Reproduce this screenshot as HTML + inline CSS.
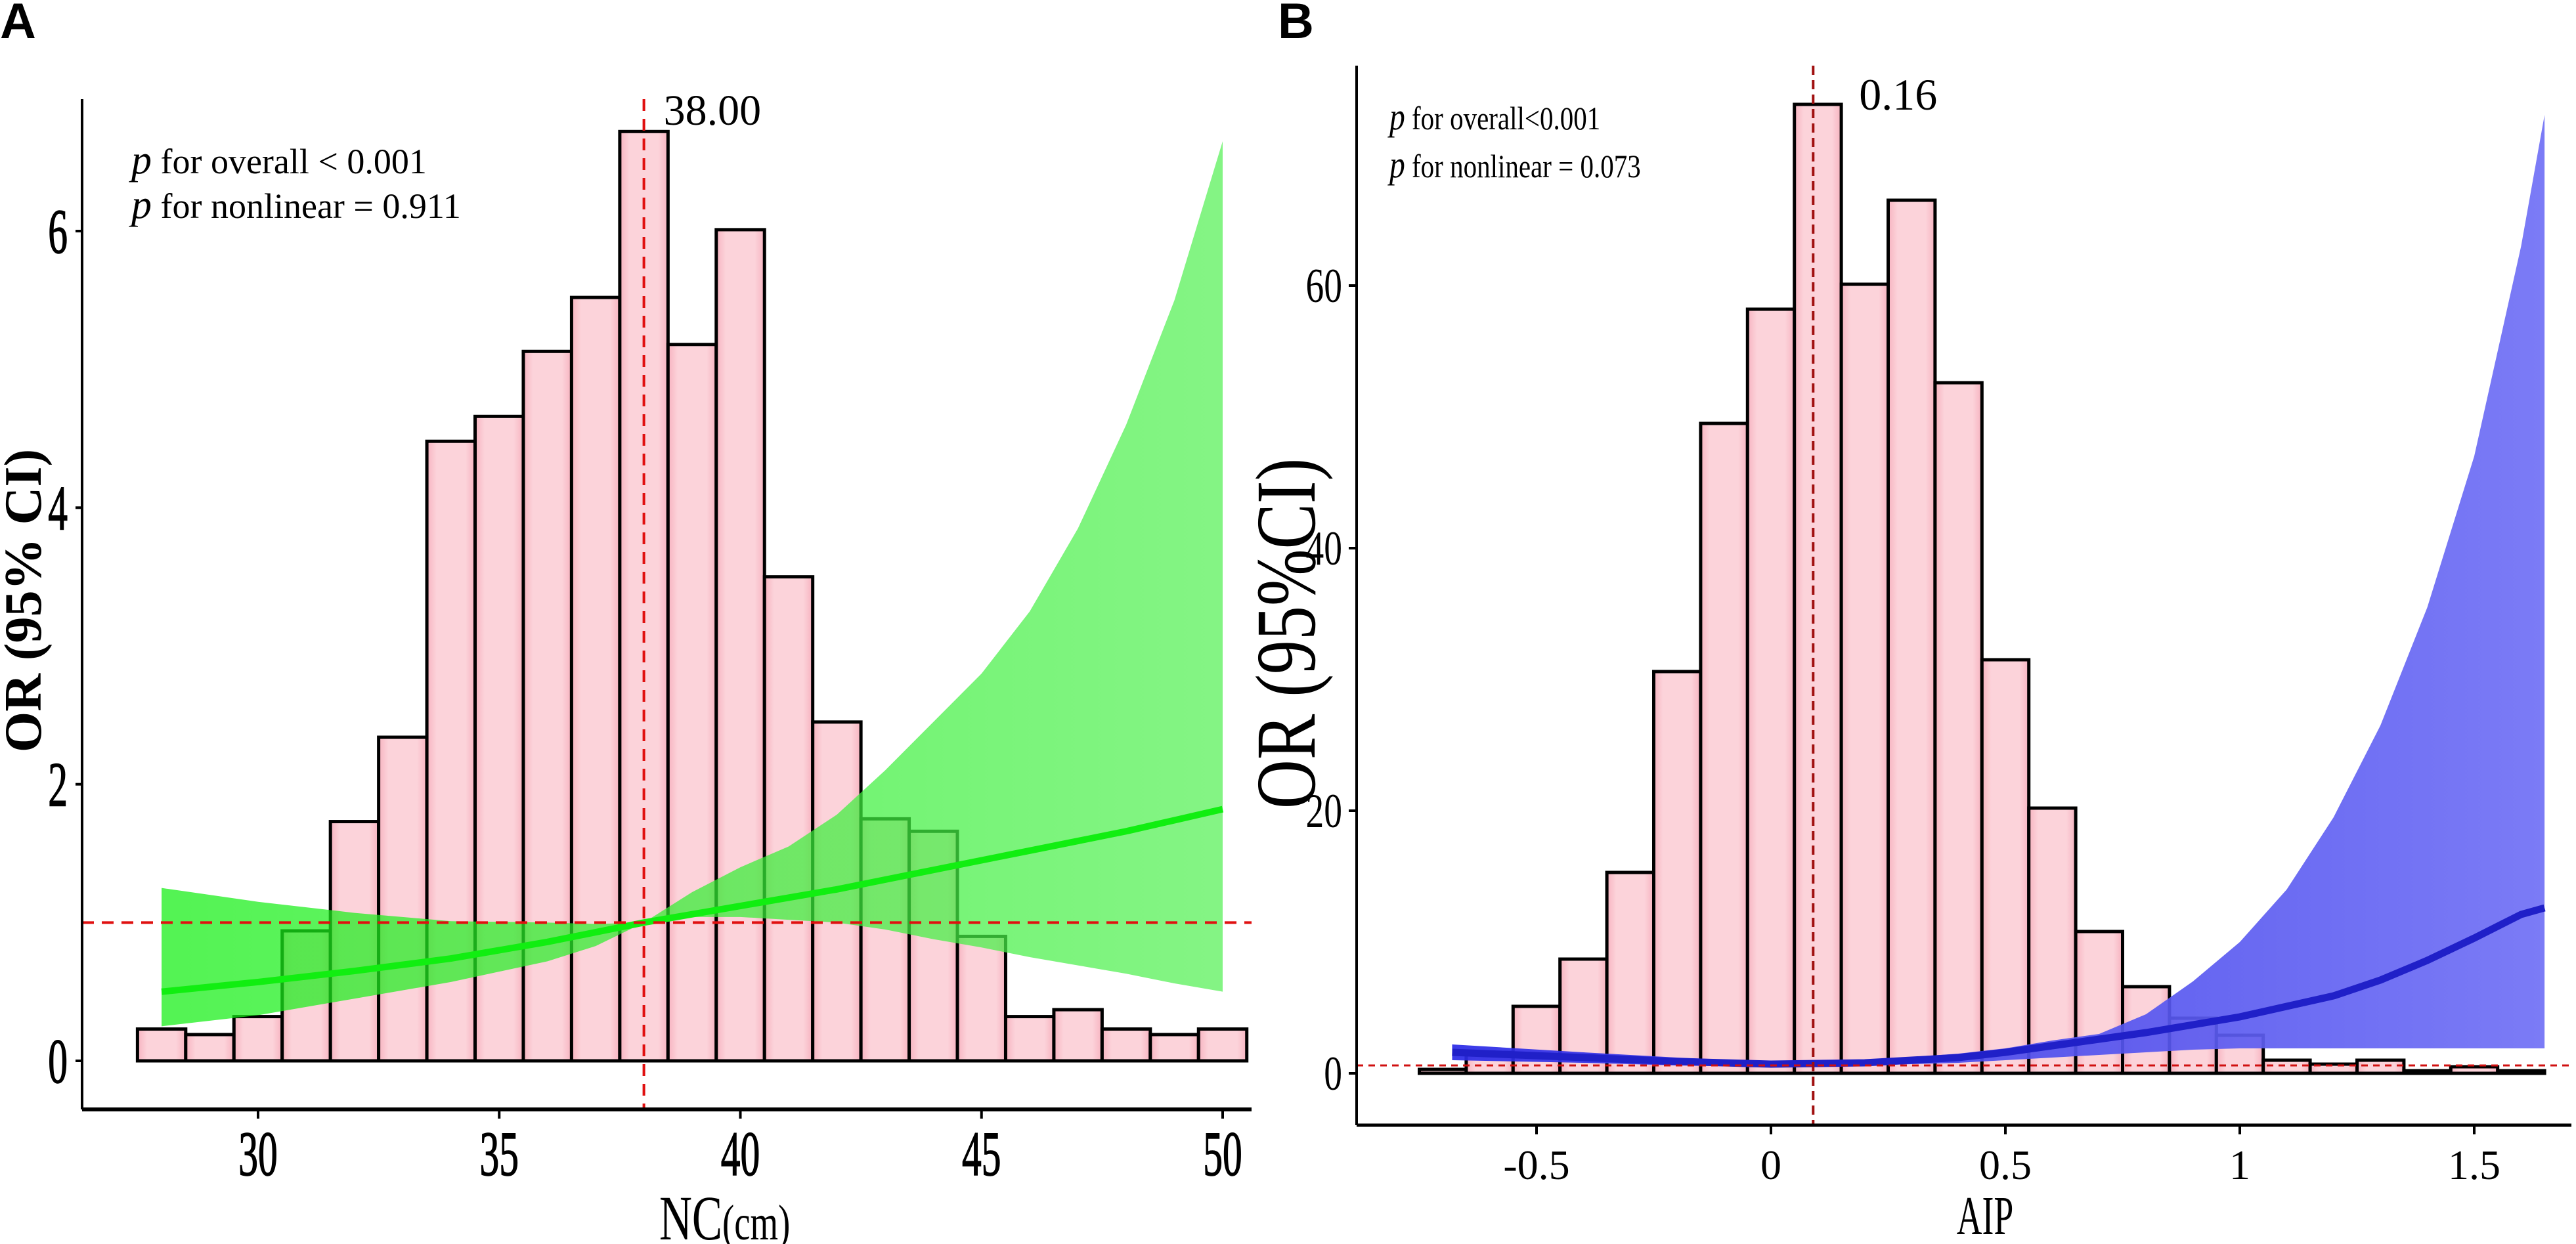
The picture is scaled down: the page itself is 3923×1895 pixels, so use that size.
<!DOCTYPE html>
<html><head><meta charset="utf-8"><style>
html,body{margin:0;padding:0;background:#fff;}
svg{display:block;}
text{font-family:"Liberation Serif",serif;}
</style></head><body>
<svg id="chart" width="3923" height="1895" viewBox="0 0 3923 1895" xmlns="http://www.w3.org/2000/svg">
<defs>
<linearGradient id="pinkG" x1="0" x2="1" y1="0" y2="0">
<stop offset="0" stop-color="#f7b3c0"/><stop offset="0.2" stop-color="#fcd3da"/><stop offset="0.8" stop-color="#fcd3da"/><stop offset="1" stop-color="#f7b3c0"/>
</linearGradient>
<linearGradient id="greenG" x1="0" x2="1" y1="0" y2="0">
<stop offset="0" stop-color="#11ee11"/><stop offset="1" stop-color="#55f055"/>
</linearGradient>
<linearGradient id="blueG" x1="0" x2="1" y1="0" y2="0">
<stop offset="0" stop-color="#2a2ae6"/><stop offset="1" stop-color="#7070f5"/>
</linearGradient>
</defs>
<text x="0" y="58" font-size="76" font-weight="bold" style="font-family:'Liberation Sans',sans-serif">A</text>
<text x="1946" y="58" font-size="76" font-weight="bold" style="font-family:'Liberation Sans',sans-serif">B</text>
<g id="pa"></g>
<g id="pb"></g>
<text transform="translate(62,915) rotate(-90)" font-size="80" font-weight="bold" text-anchor="middle">OR (95% CI)</text>
<text transform="translate(1004,1888) scale(0.72,1)" font-size="96"><tspan>NC</tspan><tspan font-size="76">(cm)</tspan></text>
<text x="200" y="264" font-size="54"><tspan font-style="italic" font-size="62">p</tspan> for overall &lt; 0.001</text>
<text x="200" y="332" font-size="54"><tspan font-style="italic" font-size="62">p</tspan> for nonlinear = 0.911</text>
<text transform="translate(2002,965) rotate(-90) scale(0.8,1)" font-size="130" text-anchor="middle">OR (95%CI)</text>
<text transform="translate(3023,1880) scale(0.64,1)" font-size="84" text-anchor="middle">AIP</text>
<text transform="translate(2116,197) scale(0.82,1)" font-size="50"><tspan font-style="italic" font-size="58">p</tspan> for overall&lt;0.001</text>
<text transform="translate(2116,270) scale(0.82,1)" font-size="50"><tspan font-style="italic" font-size="58">p</tspan> for nonlinear = 0.073</text>
</svg>
<script>
// ---------- Panel A data ----------
const aBinStarts = [27.5,28.5,29.5,30.5,31.5,32.5,33.5,34.5,35.5,36.5,37.5,38.5,39.5,40.5,41.5,42.5,43.5,44.5,45.5,46.5,47.5,48.5,49.5];
const aBinHeights = [0.23,0.19,0.32,0.94,1.73,2.34,4.48,4.66,5.13,5.52,6.72,5.18,6.01,3.50,2.45,1.75,1.66,0.90,0.32,0.37,0.23,0.19,0.23];
const aCurveX = [28,30,32,34,36,37,38,39,40,41,42,43,44,45,46,47,48,49,50];
const aCurveOR = [0.50,0.57,0.65,0.74,0.86,0.93,1.0,1.06,1.12,1.18,1.24,1.31,1.38,1.45,1.52,1.59,1.66,1.74,1.82];
const aUpper = [1.25,1.15,1.07,1.01,1.0,0.99,1.0,1.22,1.40,1.55,1.78,2.10,2.45,2.80,3.25,3.85,4.60,5.50,6.65];
const aLower = [0.25,0.33,0.45,0.57,0.72,0.83,1.0,1.04,1.04,1.02,1.0,0.95,0.88,0.82,0.75,0.69,0.63,0.56,0.50];
const aXTicks = [30,35,40,45,50];
const aYTicks = [0,2,4,6];
const aRef = 38, aRefLabel = "38.00";

// ---------- Panel B data ----------
const bBinCenters = [-0.7,-0.6,-0.5,-0.4,-0.3,-0.2,-0.1,0,0.1,0.2,0.3,0.4,0.5,0.6,0.7,0.8,0.9,1.0,1.1,1.2,1.3,1.4,1.5,1.6];
const bBinHeights = [0.3,1.6,5.1,8.7,15.3,30.6,49.5,58.2,73.8,60.1,66.5,52.6,31.5,20.2,10.8,6.6,4.2,2.9,1.0,0.7,1.0,0.2,0.5,0.2];
const bCurveX = [-0.68,-0.4,-0.2,0,0.2,0.4,0.5,0.6,0.7,0.8,0.9,1.0,1.1,1.2,1.3,1.4,1.5,1.6,1.65];
const bCurveOR = [1.6,1.2,0.9,0.7,0.8,1.2,1.6,2.1,2.6,3.1,3.7,4.3,5.1,5.9,7.1,8.6,10.3,12.1,12.6];
const bUpper = [2.2,1.6,1.2,0.9,1.0,1.5,1.9,2.5,3.0,4.5,7.0,10.0,14.0,19.5,26.5,35.5,47.0,63.0,73.0];
const bLower = [1.0,0.8,0.6,0.5,0.6,0.8,1.0,1.2,1.4,1.6,1.8,1.9,1.9,1.9,1.9,1.9,1.9,1.9,1.9];
const bXTicks = [-0.5,0,0.5,1,1.5];
const bXTickLabels = ["-0.5","0","0.5","1","1.5"];
const bYTicks = [0,20,40,60];
const bRef = 0.09, bRefLabel = "0.16", bHRef = 0.6;

const NS="http://www.w3.org/2000/svg";
function mk(parent,tag,attrs,txt){const e=document.createElementNS(NS,tag);for(const k in attrs)e.setAttribute(k,attrs[k]);if(txt!==undefined)e.textContent=txt;parent.appendChild(e);return e;}
function linScale(d0,d1,r0,r1){return v=>r0+(v-d0)*(r1-r0)/(d1-d0);}

// ---------- Panel A ----------
(function(){
const g=document.getElementById('pa');
const X=linScale(30,50,393,1862), Y=linScale(0,6,1616,352);
const left=125, right=1906, top=151, bottom=1690;
aBinStarts.forEach((s,i)=>{
  const r=mk(g,'rect',{x:X(s),y:Y(aBinHeights[i]),width:X(s+1)-X(s),height:Y(0)-Y(aBinHeights[i]),fill:'url(#pinkG)',stroke:'#000','stroke-width':5});
  
  
});
let d='M'+aCurveX.map((x,i)=>X(x)+','+Y(aUpper[i])).join(' L');
for(let i=aCurveX.length-1;i>=0;i--) d+=' L'+X(aCurveX[i])+','+Y(aLower[i]);
const band=mk(g,'path',{d:d+'Z',fill:'url(#greenG)','fill-opacity':0.72});


const line=mk(g,'path',{d:'M'+aCurveX.map((x,i)=>X(x)+','+Y(aCurveOR[i])).join(' L'),fill:'none',stroke:'#11ee11','stroke-width':10});


const h=mk(g,'line',{x1:left,x2:right,y1:Y(1),y2:Y(1),stroke:'#e01010','stroke-width':4,'stroke-dasharray':'18 12'});


const v=mk(g,'line',{x1:X(aRef),x2:X(aRef),y1:top,y2:bottom,stroke:'#e01010','stroke-width':4,'stroke-dasharray':'18 12'});


const rl=mk(g,'text',{x:X(aRef)+30,y:190,'font-size':66},aRefLabel);


mk(g,'line',{x1:left,x2:left,y1:top,y2:bottom,stroke:'#000','stroke-width':4,});
mk(g,'line',{x1:left,x2:right,y1:bottom,y2:bottom,stroke:'#000','stroke-width':6,});
aXTicks.forEach(t=>{
  const tk=mk(g,'line',{x1:X(t),x2:X(t),y1:bottom,y2:bottom+14,stroke:'#000','stroke-width':4});
  
  
  const tl=mk(g,'text',{transform:`translate(${X(t)},${bottom+100}) scale(0.62,1)`,'font-size':96,'text-anchor':'middle',stroke:'#000','stroke-width':1.5},String(t));
  
  
});
aYTicks.forEach(t=>{
  const tk=mk(g,'line',{x1:left-10,x2:left,y1:Y(t),y2:Y(t),stroke:'#000','stroke-width':4});
  
  
  const tl=mk(g,'text',{transform:`translate(${left-22},${Y(t)+33}) scale(0.62,1)`,'font-size':96,'text-anchor':'end',stroke:'#000','stroke-width':1.5},String(t));
  
  
});
})();

// ---------- Panel B ----------
(function(){
const g=document.getElementById('pb');
const X=linScale(0,1,2697,3411), Y=linScale(0,60,1635,435);
const left=2066, right=3916, top=100, bottom=1714, bw=0.1;
bBinCenters.forEach((c,i)=>{
  const r=mk(g,'rect',{x:X(c-bw/2),y:Y(bBinHeights[i]),width:X(c+bw/2)-X(c-bw/2),height:Y(0)-Y(bBinHeights[i]),fill:'url(#pinkG)',stroke:'#000','stroke-width':5});
  
  
});
let d='M'+bCurveX.map((x,i)=>X(x)+','+Y(bUpper[i])).join(' L');
for(let i=bCurveX.length-1;i>=0;i--) d+=' L'+X(bCurveX[i])+','+Y(bLower[i]);
const band=mk(g,'path',{d:d+'Z',fill:'url(#blueG)','fill-opacity':0.92});


const line=mk(g,'path',{d:'M'+bCurveX.map((x,i)=>X(x)+','+Y(bCurveOR[i])).join(' L'),fill:'none',stroke:'#2020c8','stroke-width':11});


const h=mk(g,'line',{x1:left,x2:right,y1:Y(bHRef),y2:Y(bHRef),stroke:'#d01010','stroke-width':3,'stroke-dasharray':'10 8'});


const v=mk(g,'line',{x1:X(bRef),x2:X(bRef),y1:top,y2:bottom,stroke:'#a01010','stroke-width':4,'stroke-dasharray':'14 8'});


const rl=mk(g,'text',{x:X(bRef)+70,y:167,'font-size':68},bRefLabel);


mk(g,'line',{x1:left,x2:left,y1:top,y2:bottom,stroke:'#000','stroke-width':4,});
mk(g,'line',{x1:left,x2:right,y1:bottom,y2:bottom,stroke:'#000','stroke-width':5,});
bXTicks.forEach((t,i)=>{
  const tk=mk(g,'line',{x1:X(t),x2:X(t),y1:bottom,y2:bottom+14,stroke:'#000','stroke-width':4});
  
  
  const tl=mk(g,'text',{x:X(t),y:1796,'font-size':64,'text-anchor':'middle'},bXTickLabels[i]);
  
  
});
bYTicks.forEach(t=>{
  const tk=mk(g,'line',{x1:left-12,x2:left,y1:Y(t),y2:Y(t),stroke:'#000','stroke-width':4});
  
  
  const tl=mk(g,'text',{transform:`translate(${left-22},${Y(t)+25}) scale(0.75,1)`,'font-size':74,'text-anchor':'end'},String(t));
  
  
});
})();
</script>
</body></html>
